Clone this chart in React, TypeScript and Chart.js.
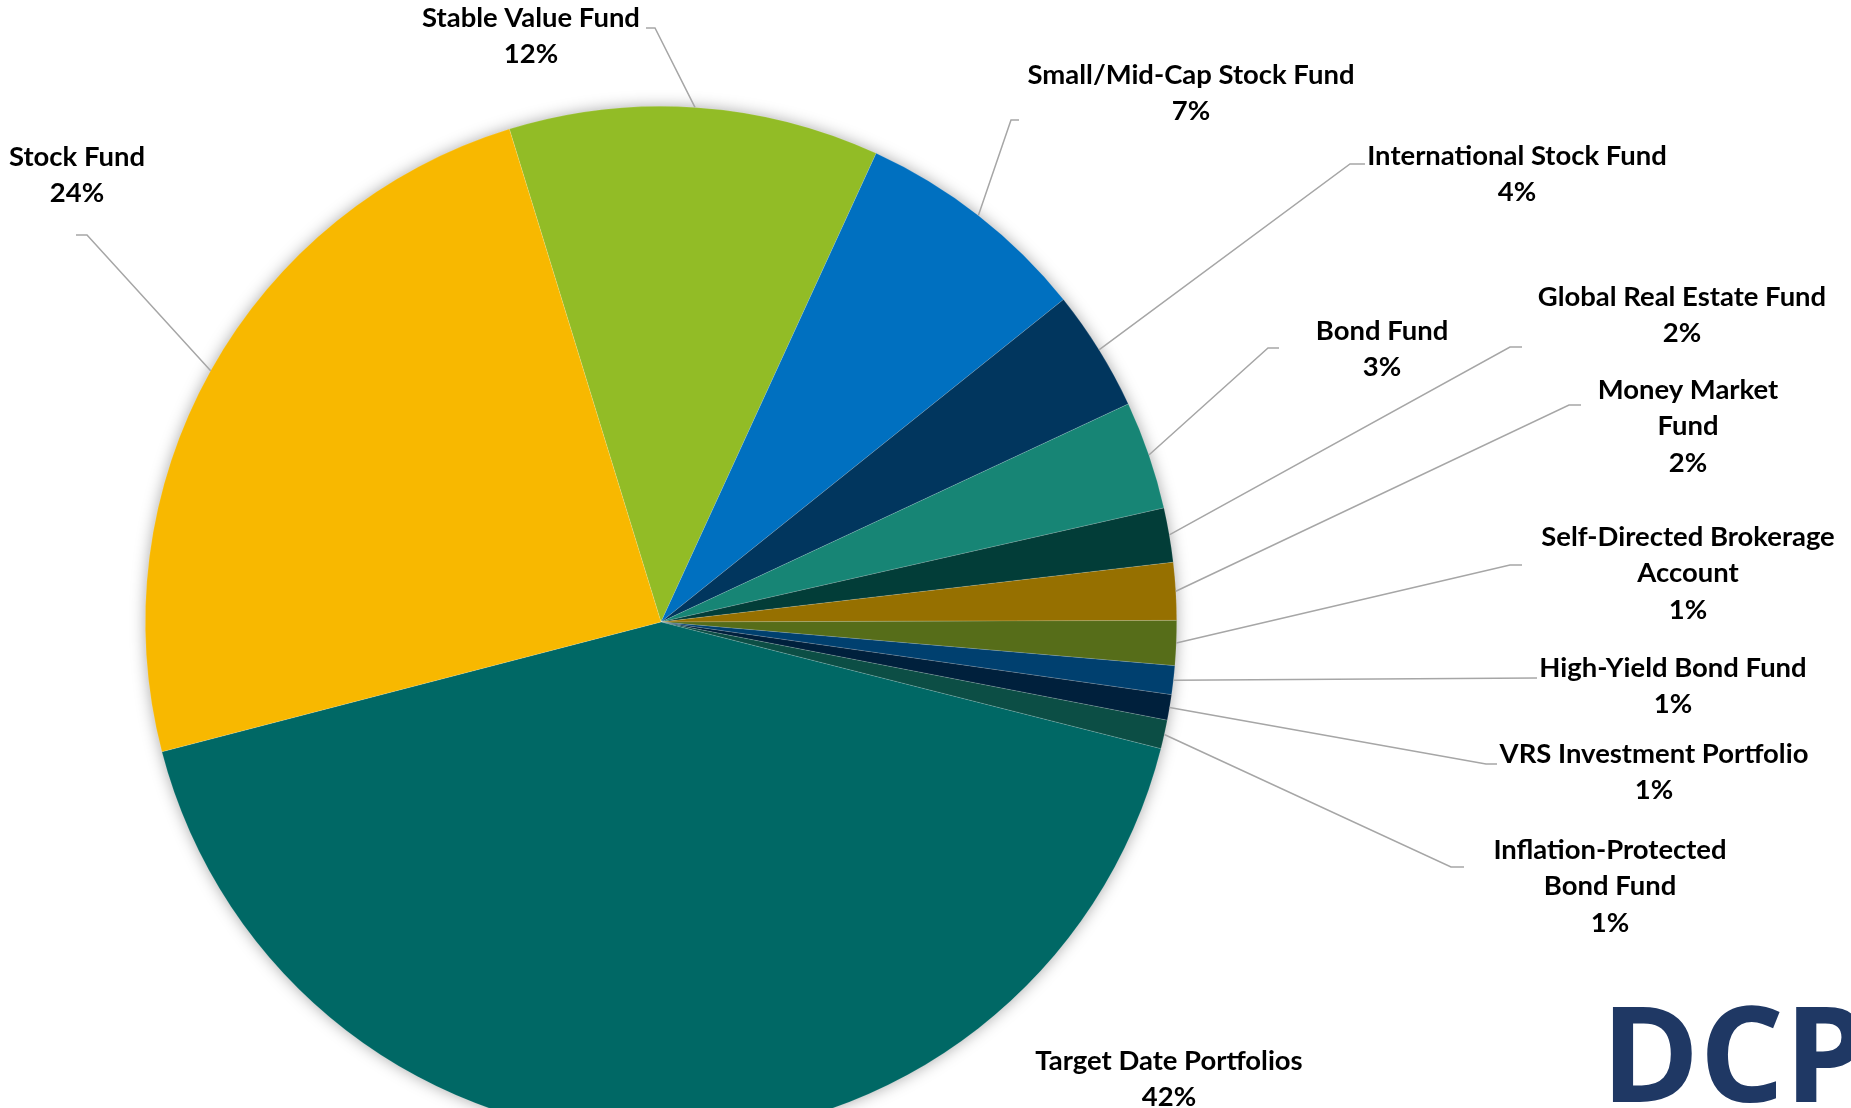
import React, { useEffect, useRef } from "react";
import { Chart, registerables } from "chart.js";

Chart.register(...registerables);

// ---- Data (clockwise from the Stock/Stable boundary) ----
const categories = [
  "Stable Value Fund",
  "Small/Mid-Cap Stock Fund",
  "International Stock Fund",
  "Bond Fund",
  "Global Real Estate Fund",
  "Money Market Fund",
  "Self-Directed Brokerage Account",
  "High-Yield Bond Fund",
  "VRS Investment Portfolio",
  "Inflation-Protected Bond Fund",
  "Target Date Portfolios",
  "Stock Fund",
];

const values = [11.6, 7.4, 3.8, 3.4, 1.7, 1.8, 1.4, 0.9, 0.8, 0.9, 42.0, 24.3];

const colors = [
  "#92BC26",
  "#0070C0",
  "#01365E",
  "#178575",
  "#023D38",
  "#967000",
  "#566D19",
  "#00406F",
  "#00203C",
  "#0C4E45",
  "#006865",
  "#F8B800",
];

// how each category name is broken into lines in its label
const labelLines = [
  ["Stable Value Fund"],
  ["Small/Mid-Cap Stock Fund"],
  ["International Stock Fund"],
  ["Bond Fund"],
  ["Global Real Estate Fund"],
  ["Money Market", "Fund"],
  ["Self-Directed Brokerage", "Account"],
  ["High-Yield Bond Fund"],
  ["VRS Investment Portfolio"],
  ["Inflation-Protected", "Bond Fund"],
  ["Target Date Portfolios"],
  ["Stock Fund"],
];

// ---- Layout of the data labels (pixels): text centre x, first line y, leader elbow/end ----
type LabelPos = { x: number; y: number; elbow?: [number, number]; end?: [number, number] };
const labelLayout: LabelPos[] = [
  { x: 531, y: 18, elbow: [655, 28], end: [646, 28] },
  { x: 1191, y: 75, elbow: [1011, 120], end: [1019, 120] },
  { x: 1517, y: 156, elbow: [1350, 164], end: [1365, 164] },
  { x: 1382, y: 331, elbow: [1268, 348], end: [1279, 348] },
  { x: 1682, y: 297, elbow: [1510, 347], end: [1522, 347] },
  { x: 1688, y: 390, elbow: [1569, 405], end: [1581, 405] },
  { x: 1688, y: 537, elbow: [1510, 565], end: [1522, 565] },
  { x: 1673, y: 668, elbow: [1537, 678], end: [1537, 678] },
  { x: 1654, y: 754, elbow: [1486, 764], end: [1497, 764] },
  { x: 1610, y: 850, elbow: [1451, 867], end: [1464, 867] },
  { x: 1169, y: 1061 },
  { x: 77, y: 157, elbow: [87, 235], end: [76, 235] },
];

const LINE_GAP = 36.5;
const FONT_FAMILY = "Lato, 'Open Sans', sans-serif";
const REF_TEXT = "Stable Value Fund";
const REF_WIDTH = 218;

const CANVAS_W = 1851;
const CANVAS_H = 1244;

const shadowPlugin = {
  id: "pieShadow",
  beforeDatasetsDraw(chart: any) {
    const meta = chart.getDatasetMeta(0);
    const arc = meta.data[0];
    if (!arc) return;
    const { x, y, outerRadius } = arc.getProps(["x", "y", "outerRadius"], true);
    const ctx = chart.ctx;
    ctx.save();
    ctx.shadowColor = "rgba(0,0,0,0.38)";
    ctx.shadowBlur = 16;
    ctx.shadowOffsetX = 0;
    ctx.shadowOffsetY = 0;
    ctx.fillStyle = "#ffffff";
    ctx.beginPath();
    ctx.arc(x, y, outerRadius - 1, 0, Math.PI * 2);
    ctx.fill();
    ctx.restore();
  },
};

const labelPlugin = {
  id: "pieLabels",
  afterDatasetsDraw(chart: any) {
    const ctx = chart.ctx;
    const meta = chart.getDatasetMeta(0);
    const total = values.reduce((a, b) => a + b, 0);

    ctx.save();
    ctx.font = `bold 100px ${FONT_FAMILY}`;
    const w100 = ctx.measureText(REF_TEXT).width || 800;
    const size = (100 * REF_WIDTH) / w100;

    meta.data.forEach((arc: any, i: number) => {
      const { x, y, startAngle, endAngle, outerRadius } = arc.getProps(
        ["x", "y", "startAngle", "endAngle", "outerRadius"],
        true
      );
      const mid = (startAngle + endAngle) / 2;
      const sx = x + Math.cos(mid) * outerRadius;
      const sy = y + Math.sin(mid) * outerRadius;
      const L = labelLayout[i];
      if (L.elbow && L.end) {
        ctx.strokeStyle = "#A6A6A6";
        ctx.lineWidth = 1.5;
        ctx.beginPath();
        ctx.moveTo(sx, sy);
        ctx.lineTo(L.elbow[0], L.elbow[1]);
        ctx.lineTo(L.end[0], L.end[1]);
        ctx.stroke();
      }
      const pct = Math.round((values[i] / total) * 100) + "%";
      const lines = [...labelLines[i], pct];
      ctx.fillStyle = "#000000";
      ctx.font = `bold ${size.toFixed(2)}px ${FONT_FAMILY}`;
      ctx.textAlign = "center";
      ctx.textBaseline = "middle";
      lines.forEach((t, k) => {
        ctx.fillText(t, L.x, L.y + k * LINE_GAP);
      });
    });

    // DCP logo mark
    ctx.font = "bold 133px 'Open Sans', sans-serif";
    ctx.fillStyle = "#1F3864";
    ctx.textAlign = "left";
    ctx.textBaseline = "alphabetic";
    ctx.fillText("DCP", 1601, 1102);
    ctx.restore();
  },
};

export default function App() {
  const ref = useRef<HTMLCanvasElement | null>(null);

  useEffect(() => {
    if (!ref.current) return;
    const chart = new Chart(ref.current, {
      type: "pie",
      data: {
        labels: categories,
        datasets: [
          {
            data: values,
            backgroundColor: colors,
            borderColor: "rgba(255,255,255,0.22)",
            borderWidth: 0.6,
            hoverOffset: 0,
            offset: 0,
          },
        ],
      },
      options: {
        responsive: false,
        animation: false,
        rotation: -17.1,
        layout: { padding: { left: 145, right: 674, top: 106, bottom: 106 } },
        plugins: {
          legend: { display: false },
          tooltip: { enabled: false },
          title: { display: false },
        },
        events: [],
      },
      plugins: [shadowPlugin, labelPlugin],
    });
    return () => chart.destroy();
  }, []);

  return (
    <div
      style={{
        position: "fixed",
        left: 0,
        top: 0,
        width: CANVAS_W,
        height: 1108,
        overflow: "hidden",
        background: "#ffffff",
      }}
    >
      <canvas
        ref={ref}
        width={CANVAS_W}
        height={CANVAS_H}
        style={{ display: "block", width: CANVAS_W, height: CANVAS_H }}
      />
    </div>
  );
}
